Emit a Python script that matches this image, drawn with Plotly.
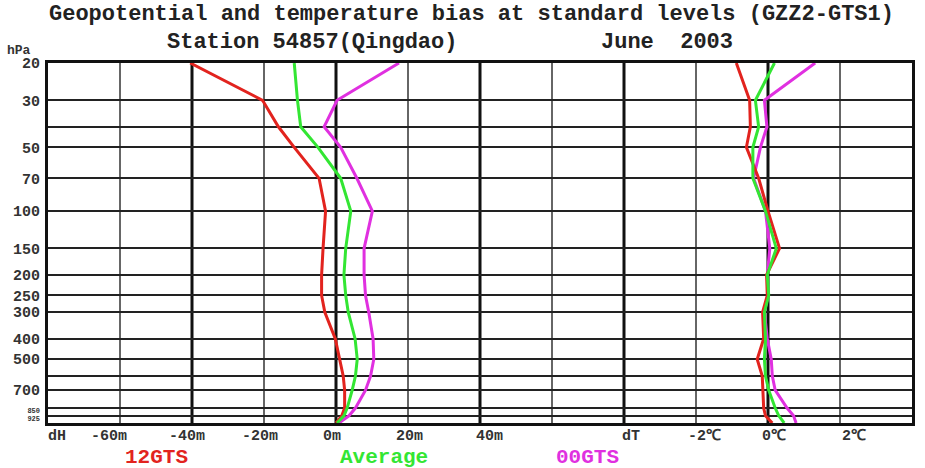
import numpy as np
import plotly.graph_objects as go

# ---- data ----
levels = [20, 30, 40, 50, 70, 100, 150, 200, 250, 300, 400, 500, 600, 700, 850, 925, 1000]
level_labels = ["20", "30", "", "50", "70", "100", "150", "200", "250", "300", "400", "500", "", "700", "850", "925", ""]

# geopotential bias (m)
dh_12gts = [-40.5, -20.4, -16.0, -11.6, -4.7, -2.9, -3.6, -4.0, -4.0, -3.1, -0.2, 1.0, 2.0, 2.4, 2.4, 1.6, 0.0]
dh_avg = [-11.6, -10.7, -9.8, -5.0, 1.3, 4.1, 2.7, 2.2, 2.7, 3.4, 5.3, 5.9, 5.4, 4.5, 3.1, 2.2, 0.3]
dh_00gts = [17.5, 0.3, -3.3, 1.3, 5.8, 10.1, 7.8, 7.8, 8.2, 9.1, 10.3, 10.5, 9.6, 8.2, 5.4, 3.6, 0.8]

# temperature bias (deg C)
dt_12gts = [-0.88, -0.51, -0.49, -0.60, -0.26, 0.0, 0.32, -0.04, -0.02, -0.15, -0.12, -0.30, -0.16, -0.14, -0.12, -0.07, 0.12]
dt_avg = [0.18, -0.35, -0.26, -0.42, -0.42, -0.07, 0.23, -0.02, 0.02, -0.10, -0.07, -0.10, -0.07, 0.02, 0.20, 0.30, 0.45]
dt_00gts = [1.31, -0.10, -0.03, -0.21, -0.40, -0.07, 0.05, -0.02, 0.0, -0.10, -0.02, 0.09, 0.12, 0.20, 0.53, 0.71, 0.78]

series_names = ["12GTS", "Average", "00GTS"]
series_colors = ["#e2231e", "#33e633", "#e030e0"]

x_tick_labels = ["dH", "-60m", "-40m", "-20m", "0m", "20m", "40m", "dT", "-2℃", "0℃", "2℃"]
x_tick_units = [0.12, 0.85, 1.93, 2.95, 3.95, 5.02, 6.13, 8.1, 9.12, 10.08, 11.2]

# panel layout on a common unit axis: 20 m per unit (left), 2 degC per unit (right)
GEO_ZERO, GEO_SCALE = 4, 20.0
TMP_ZERO, TMP_SCALE = 10, 2.0
N_UNITS = 12

def geo_x(v):
    return [GEO_ZERO + a / GEO_SCALE for a in v]

def tmp_x(v):
    return [TMP_ZERO + a / TMP_SCALE for a in v]

fig = go.Figure()

geo_data = {"12GTS": dh_12gts, "Average": dh_avg, "00GTS": dh_00gts}
tmp_data = {"12GTS": dt_12gts, "Average": dt_avg, "00GTS": dt_00gts}
color_of = dict(zip(series_names, series_colors))

for name in ["00GTS", "12GTS", "Average"]:
    c = color_of[name]
    fig.add_trace(go.Scatter(x=geo_x(geo_data[name]), y=levels, mode="lines",
                             line=dict(color=c, width=3), name=name, showlegend=False))
    fig.add_trace(go.Scatter(x=tmp_x(tmp_data[name]), y=levels, mode="lines",
                             line=dict(color=c, width=3), name=name, showlegend=False))

# vertical grid lines (thick every 2 units, thin in between)
shapes = []
for u in range(1, N_UNITS):
    thick = (u % 2 == 0)
    shapes.append(dict(type="line", xref="x", yref="paper", x0=u, x1=u, y0=0, y1=1,
                       line=dict(color="#111111" if thick else "#333333", width=3 if thick else 1.5),
                       layer="below"))

mono = "Liberation Mono"

def ylab(t):
    if not t:
        return ""
    if t in ("850", "925"):
        return '<b><span style="font-size:7px">%s</span></b>' % t
    return "<b>%s</b>" % t

annotations = []
annotations.append(dict(text="<b>Geopotential and temperature bias at standard levels (GZZ2-GTS1)</b>",
                        xref="x", yref="paper", x=5.88, y=1.136, showarrow=False,
                        font=dict(family=mono, size=22, color="#222222"), xanchor="center", yanchor="middle"))
annotations.append(dict(text="<b>Station 54857(Qingdao)</b>", xref="x", yref="paper", x=3.67, y=1.056,
                        showarrow=False, font=dict(family=mono, size=22, color="#222222"),
                        xanchor="center", yanchor="middle"))
annotations.append(dict(text="<b>June\u00a0\u00a02003</b>", xref="x", yref="paper", x=8.6, y=1.056,
                        showarrow=False, font=dict(family=mono, size=22, color="#222222"),
                        xanchor="center", yanchor="middle"))
annotations.append(dict(text="<b>hPa</b>", xref="paper", yref="paper", x=-0.033, y=1.036,
                        showarrow=False, font=dict(family=mono, size=13, color="#333333"),
                        xanchor="center", yanchor="middle"))
for lab, u in zip(x_tick_labels, x_tick_units):
    annotations.append(dict(text="<b>%s</b>" % lab, xref="x", yref="paper", x=u, y=-0.037,
                            showarrow=False, font=dict(family=mono, size=15, color="#333333"),
                            xanchor="center", yanchor="middle"))
legend_units = [1.51, 4.66, 7.49]
for name, u in zip(series_names, legend_units):
    annotations.append(dict(text="<b>%s</b>" % name, xref="x", yref="paper", x=u, y=-0.097,
                            showarrow=False, font=dict(family=mono, size=21, color=color_of[name]),
                            xanchor="center", yanchor="middle"))

fig.update_layout(
    width=925, height=468,
    margin=dict(l=48, r=10, t=63, b=45),
    paper_bgcolor="white", plot_bgcolor="white",
    showlegend=False,
    shapes=shapes,
    annotations=annotations,
    xaxis=dict(range=[0, N_UNITS], showgrid=False, zeroline=False, showticklabels=False,
               ticks="", showline=True, mirror=True, linecolor="#111111", linewidth=3),
    yaxis=dict(type="log", range=[np.log10(1000), np.log10(20)],
               tickvals=levels, ticktext=[ylab(t) for t in level_labels],
               showgrid=True, gridcolor="#222222", gridwidth=2, zeroline=False,
               ticks="", showline=True, mirror=True, linecolor="#111111", linewidth=3,
               tickfont=dict(family=mono, size=15, color="#333333"), ticklabelstandoff=2),
)

fig.write_html("out.html")
